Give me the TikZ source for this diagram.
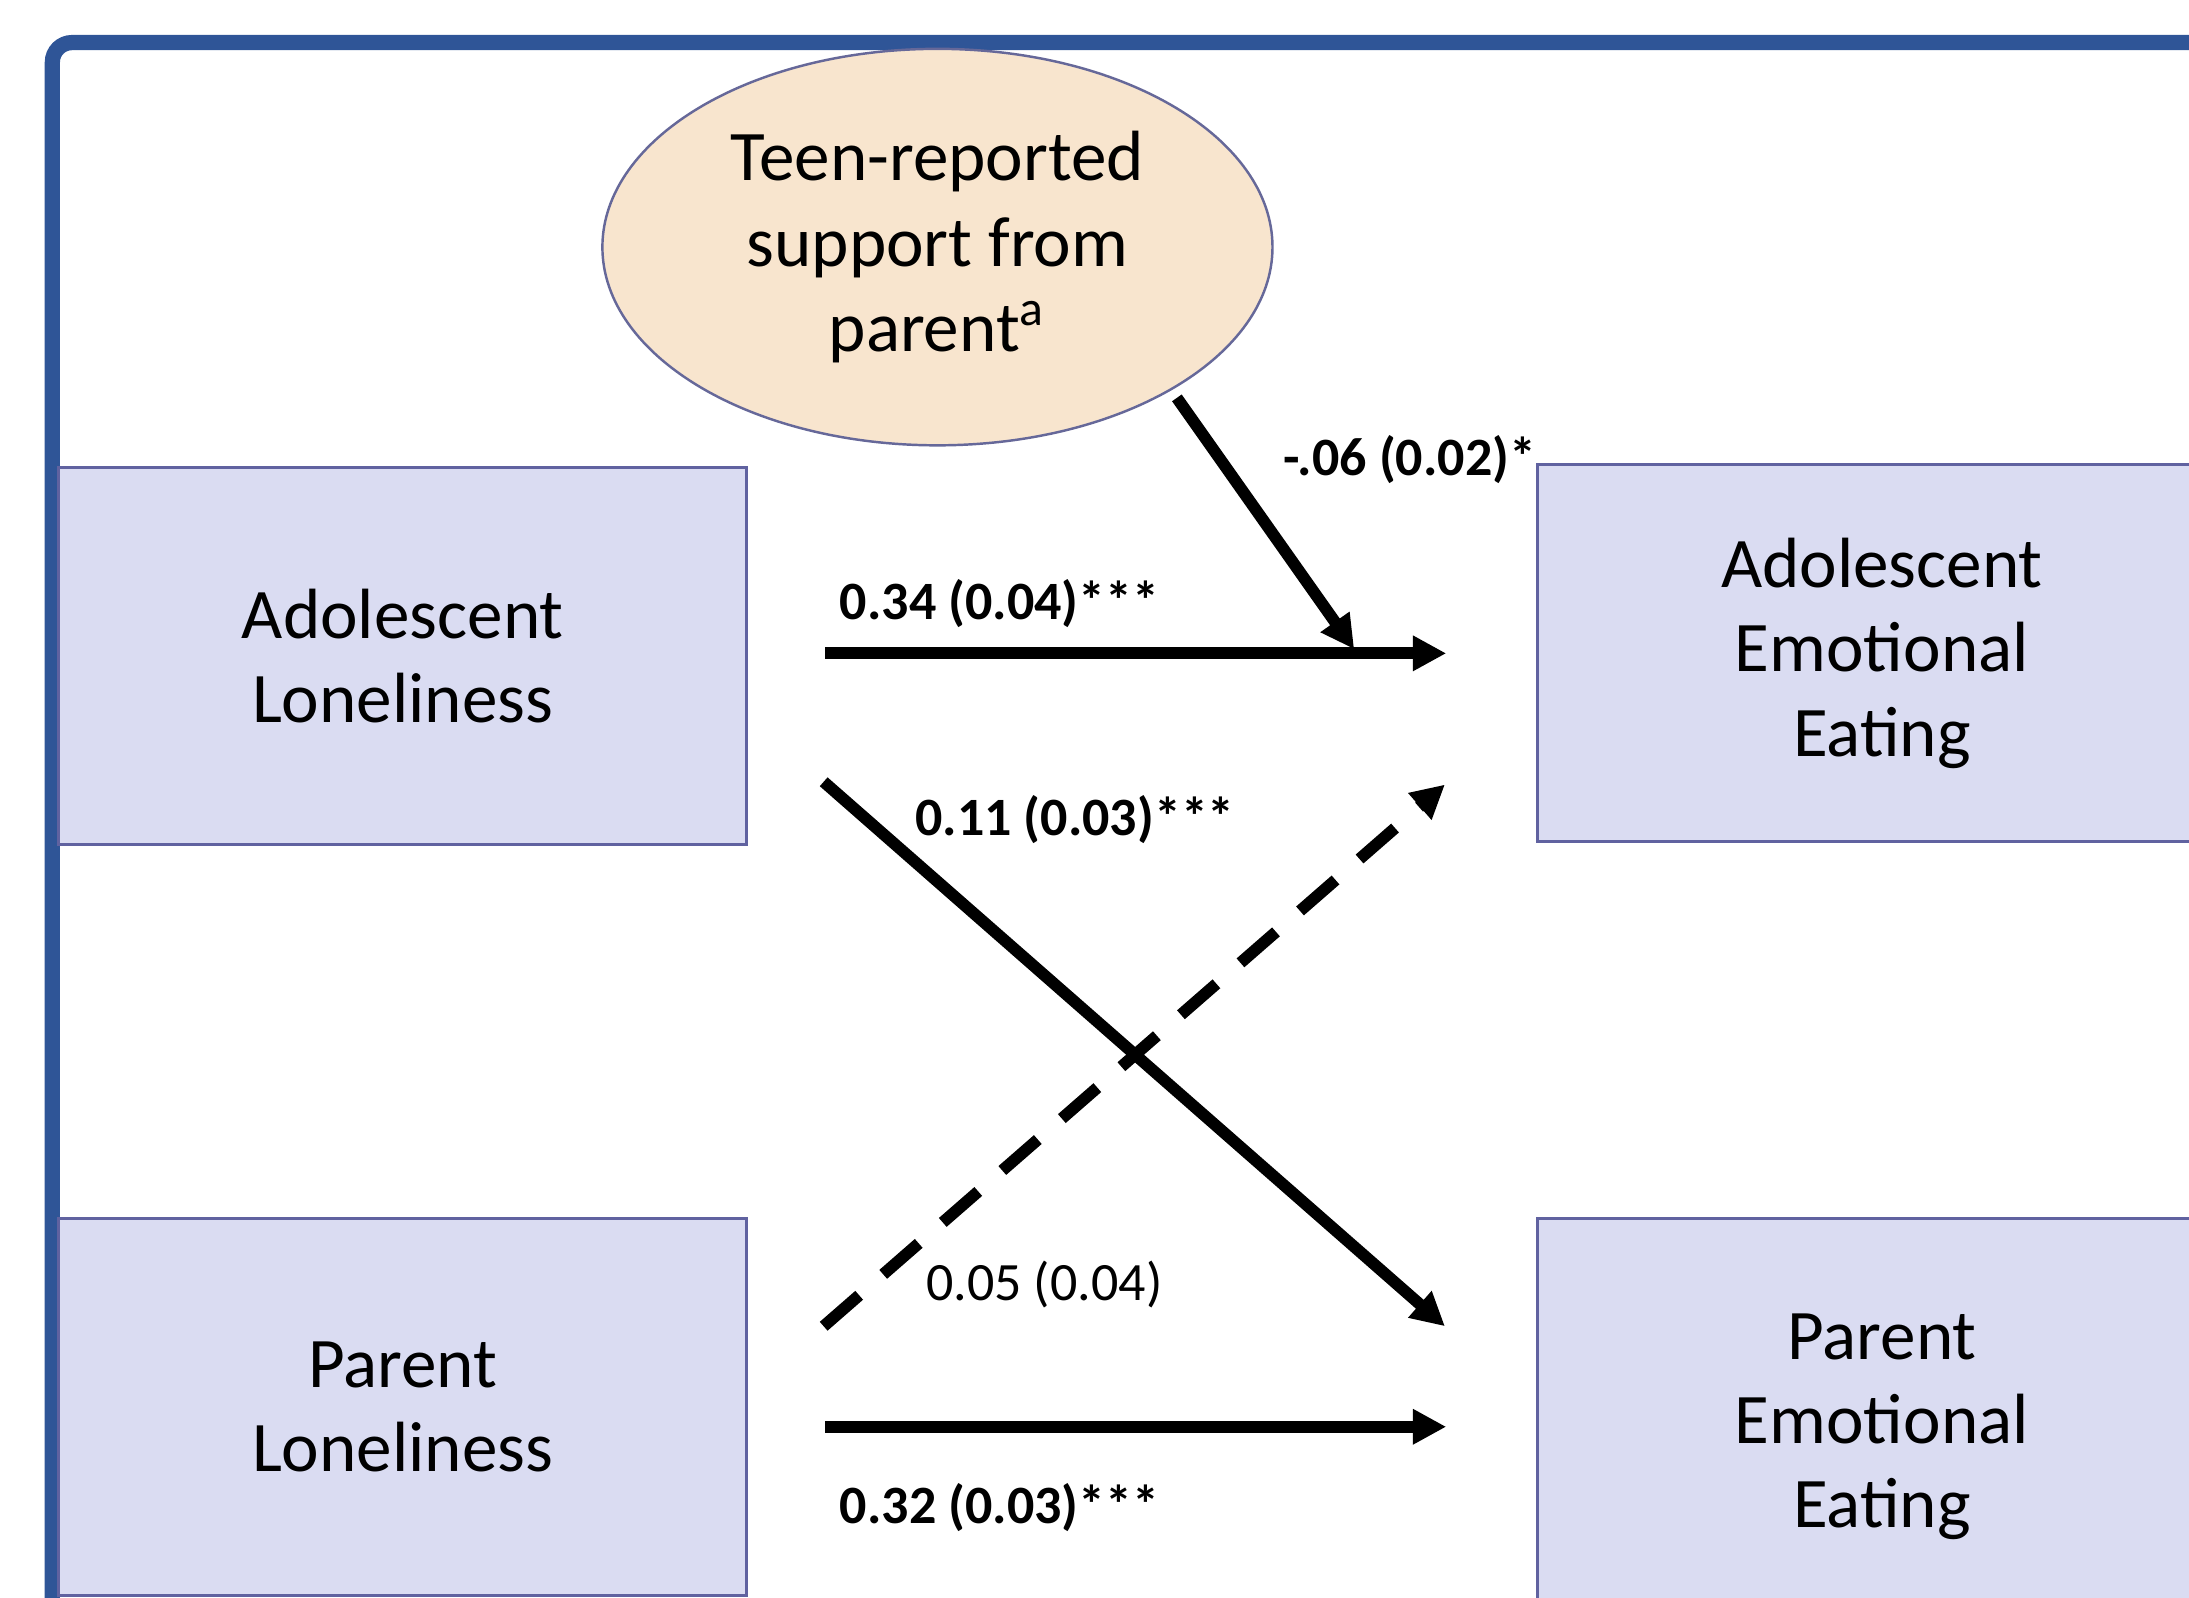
\documentclass[tikz,border=0pt]{standalone}
\usepackage{fontspec}
\setmainfont{Carlito}
\usetikzlibrary{arrows.meta,shapes.geometric}
\definecolor{frameblue}{RGB}{47,85,151}
\definecolor{boxfill}{RGB}{218,220,242}
\definecolor{boxline}{RGB}{96,98,160}
\definecolor{peach}{RGB}{248,229,206}
\tikzset{
  varbox/.style={draw=boxline, line width=0.6pt, fill=boxfill, minimum width=4.93cm,
    minimum height=2.70cm, align=center, font=\fontsize{14.5}{17.2}\selectfont},
  modnode/.style={ellipse, draw=boxline!80!gray, line width=0.5pt, fill=peach, inner sep=0pt,
    minimum width=4.8cm, minimum height=2.84cm, align=center, font=\fontsize{14.5}{17.4}\selectfont},
  arr/.style={line width=2.4pt, -{Triangle[length=6.8pt,width=6.8pt]}},
  coef/.style={font=\fontsize{11}{13}\selectfont\bfseries},
  coefns/.style={font=\fontsize{11}{13}\selectfont}
}
\begin{document}
\begin{tikzpicture}
  \useasboundingbox (0,0) rectangle (15.68,-11.44);
  \clip (0,0) rectangle (15.68,-11.44);
  % Frame
  \draw[frameblue, line width=3.1pt, rounded corners=4pt] (0.375,-0.305) rectangle (16.5,-12.5);
  % Variables
  \node[varbox] (al) at (2.885,-4.70) {Adolescent\\Loneliness};
  \node[varbox] (pl) at (2.885,-10.08) {Parent\\Loneliness};
  \node[varbox, minimum width=4.94cm] (ae) at (13.48,-4.68) {Adolescent\\Emotional\\Eating};
  \node[varbox, minimum width=4.94cm, minimum height=2.98cm] (pe) at (13.48,-10.22) {Parent\\Emotional\\Eating};
  % Moderator
  \node[modnode] (sup) at (6.715,-1.77) {Teen-reported\\support from\\parent\textsuperscript{a}};
  % Arrow ends
  \coordinate (alx) at (5.90,-5.60);
  \coordinate (pex) at (10.35,-9.50);
  \coordinate (plx) at (5.90,-9.50);
  \coordinate (aex) at (10.35,-5.62);
  \coordinate (mods) at (8.43,-2.85);
  \coordinate (modt) at (9.70,-4.65);
  % Paths
  \draw[arr, shorten <=0.55cm, shorten >=0.64cm] (al.east |- ae.west) -- (ae.west);
  \draw[arr, shorten <=0.55cm, shorten >=0.64cm] (pl.east |- pe.west) -- (pe.west);
  \draw[arr] (alx) -- (pex);
  \draw[arr, dash pattern=on 9.6pt off 6.5pt] (plx) -- (aex);
  \draw[arr] (mods) -- (modt);
  % Coefficients
  \node[coef] (c1) at (7.16,-4.32) {0.34 (0.04)***};
  \node[coef] (c2) at (10.10,-3.29) {-.06 (0.02)*};
  \node[coef] (c3) at (7.70,-5.87) {0.11 (0.03)***};
  \node[coefns] (c4) at (7.48,-9.20) {0.05 (0.04)};
  \node[coef] (c5) at (7.16,-10.80) {0.32 (0.03)***};
\end{tikzpicture}
\end{document}
